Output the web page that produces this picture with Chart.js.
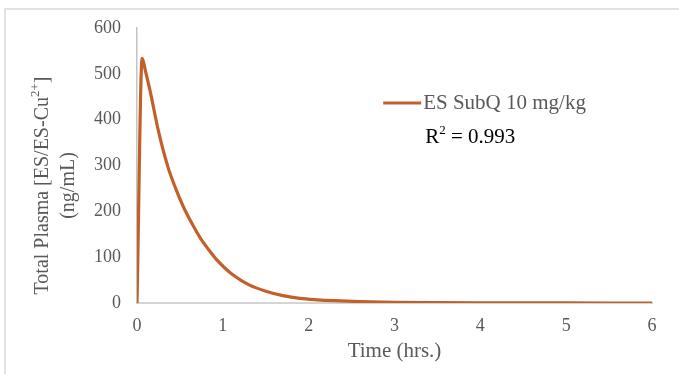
<!DOCTYPE html>
<html lang="en">
<head>
    <meta charset="UTF-8">
    <title>ES SubQ 10 mg/kg</title>
    <script src="https://cdn.jsdelivr.net/npm/chart.js"></script>
    <style>
        body { margin: 0; background: #fff; }
        #wrap { position: relative; width: 679px; height: 374px; overflow: hidden; }
        #frame { position: absolute; left: 4px; top: 8px; right: -4px; bottom: -4px;
                 border-top: 2px solid #e2e2e2; border-left: 2px solid #e2e2e2; }
        #plasmaChart { position: absolute; left: 0; top: 0; }
    </style>
</head>
<body>
    <div id="wrap">
        <div id="frame"></div>
        <canvas id="plasmaChart" width="679" height="374"></canvas>
    </div>
    <script>
        // values
        const timeHrs = [0, 0.06, 0.1, 0.15, 0.25, 0.36, 0.45, 0.54, 0.65, 0.74, 0.84, 0.93, 1.02, 1.12, 1.3, 1.51, 1.7, 1.9, 2.1, 2.3, 2.6, 3.0, 3.5, 4.0, 5.0, 6.0];
        const plasma = [0, 534, 505, 465, 375, 297, 250, 210, 170, 141, 115, 94, 77, 61, 40, 25, 16, 10, 7, 5, 3, 1.5, 0.7, 0.3, 0.1, 0];
        const xTicks = [0, 1, 2, 3, 4, 5, 6];
        const yTicks = [0, 100, 200, 300, 400, 500, 600];
        const seriesLabel = 'ES SubQ 10 mg/kg';
        const fitText = '0.993';

        const lineColor = '#c2602a';
        const serif = '"Liberation Serif", "Times New Roman", serif';

        // legend, R² note and the y title (with superscript) drawn on top
        const annotations = {
            id: 'annotations',
            afterDraw(chart) {
                const ctx = chart.ctx;
                const area = chart.chartArea;
                const ds = chart.data.datasets[0];
                ctx.save();

                // legend inside the plot
                const lx = area.left + (area.right - area.left) * 0.478;
                const ly = area.top + 75;
                ctx.strokeStyle = ds.borderColor;
                ctx.lineWidth = 3;
                ctx.beginPath();
                ctx.moveTo(lx, ly);
                ctx.lineTo(lx + 38, ly);
                ctx.stroke();
                ctx.font = '21px ' + serif;
                ctx.fillStyle = '#595959';
                ctx.textBaseline = 'middle';
                ctx.fillText(ds.label, lx + 40, ly);

                // R² text
                ctx.fillStyle = '#000';
                let rx = lx + 42;
                const ry = ly + 34;
                ctx.fillText('R', rx, ry);
                rx += ctx.measureText('R').width;
                ctx.font = '13px ' + serif;
                ctx.fillText('2', rx, ry - 6);
                rx += ctx.measureText('2').width;
                ctx.font = '21px ' + serif;
                ctx.fillText(' = ' + fitText, rx, ry);

                // y axis title, two lines, rotated
                const cy = (area.top + area.bottom) / 2 + 20;
                ctx.translate(43, cy);
                ctx.rotate(-Math.PI / 2);
                ctx.fillStyle = '#595959';
                const parts = [['Total Plasma [ES/ES-Cu', 20, 0], ['2+', 13, -7], [']', 20, 0]];
                let w = 0;
                parts.forEach(p => { ctx.font = p[1] + 'px ' + serif; w += ctx.measureText(p[0]).width; });
                let tx = -w / 2;
                ctx.textAlign = 'left';
                parts.forEach(p => {
                    ctx.font = p[1] + 'px ' + serif;
                    ctx.fillText(p[0], tx, p[2]);
                    tx += ctx.measureText(p[0]).width;
                });
                ctx.font = '20px ' + serif;
                ctx.textAlign = 'center';
                ctx.fillText('(ng/mL)', 0, 26);
                ctx.restore();
            }
        };

        new Chart(document.getElementById('plasmaChart'), {
            type: 'scatter',
            data: {
                datasets: [{
                    label: seriesLabel,
                    data: timeHrs.map((t, i) => ({ x: t, y: plasma[i] })),
                    showLine: true,
                    borderColor: lineColor,
                    backgroundColor: lineColor,
                    borderWidth: 3.2,
                    pointRadius: 0,
                    cubicInterpolationMode: 'monotone'
                }]
            },
            options: {
                responsive: false,
                animation: false,
                layout: { padding: { left: 0, right: 27, top: 28, bottom: 0 } },
                plugins: {
                    legend: { display: false },
                    tooltip: { enabled: false }
                },
                scales: {
                    x: {
                        type: 'linear',
                        min: 0,
                        max: 6,
                        afterBuildTicks: s => { s.ticks = xTicks.map(v => ({ value: v })); },
                        afterFit: s => { s.height = 71; },
                        grid: { display: false, drawTicks: false },
                        border: { color: '#d4d4d4', width: 2 },
                        ticks: { padding: 12, color: '#595959', font: { family: serif, size: 18 } },
                        title: {
                            display: true,
                            text: 'Time (hrs.)',
                            color: '#595959',
                            font: { family: serif, size: 21 },
                            padding: { top: 0, bottom: 10 }
                        }
                    },
                    y: {
                        min: 0,
                        max: 600,
                        afterBuildTicks: s => { s.ticks = yTicks.map(v => ({ value: v })); },
                        afterFit: s => { s.width = 137; },
                        grid: { display: false, drawTicks: false },
                        border: { color: '#c4c4c4', width: 1.5 },
                        ticks: { padding: 16, color: '#595959', font: { family: serif, size: 18 } }
                    }
                }
            },
            plugins: [annotations]
        });
    </script>
</body>
</html>
